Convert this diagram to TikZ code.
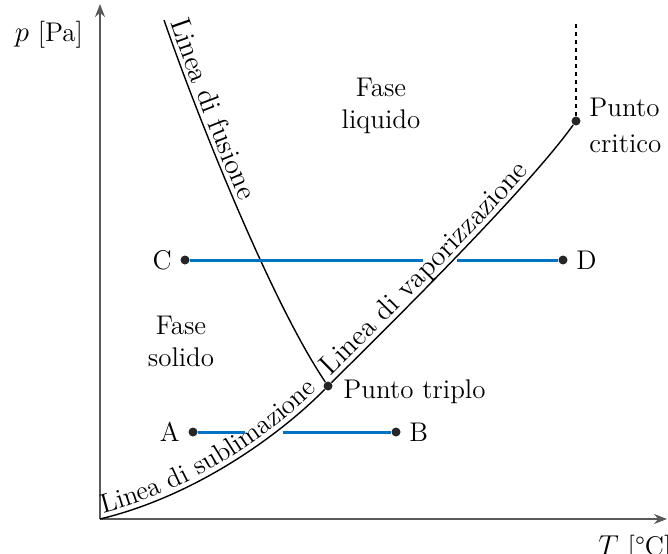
\documentclass[tikz,border=0pt]{standalone}
\usetikzlibrary{arrows.meta, positioning, decorations.text}
\definecolor{blu}{RGB}{0,114,195}
\newcommand{\testo}{\fontsize{13.5}{16}\selectfont}
\newcommand{\testocurva}{\fontsize{14.2}{16}\selectfont}

\begin{document}
\begin{tikzpicture}[
x=0.5pt, y=0.5pt,
node distance=3pt,
every node/.style={font=\testo, inner sep=1pt},
asse/.style={-{Stealth[length=6.5pt, width=5pt]}, line width=1pt, black!65},
curva/.style={line width=0.7pt},
punto/.style={circle, fill=black!85, inner sep=0pt, minimum size=4.5pt},
isoterma/.style={line width=1.5pt, blu},
scritta/.style 2 args={postaction={decorate, decoration={text along path, raise=2.5pt, text align={left indent=#1}, text={#2}}}}
]
\useasboundingbox (0,0) rectangle (668,553);

% ASSI
\coordinate (O) at (100,34);
\coordinate (yfine) at (100,549);
\coordinate (xfine) at (667,34);
\draw[asse] (O) -- (yfine);
\draw[asse] (O) -- (xfine);
\node (lp) at (49,518) {$p$ [Pa]};
\node (lT) [anchor=north west] at (596,20) {$T$ [\textdegree C]};

% PUNTI
\node (tp) [punto] at (328,167) {};
\node (cp) [punto] at (576,432) {};
\coordinate (ftop) at (164,533);
\coordinate (dtop) at (576,531);
\node (triplo) [anchor=west] at (341,161) {Punto triplo};
\node (critico) [anchor=west, align=left] at (587,428) {Punto\\[2pt]critico};

% CURVE
\draw[curva, scritta={2.5pt}{|\testo|Linea di sublimazione}]
  (O) .. controls (200,58) and (285,123) .. (tp);
\draw[curva, scritta={2pt}{|\testocurva|Linea di vaporizzazione}]
  (tp) .. controls (410,248) and (530,368) .. (cp);
\draw[curva, scritta={2pt}{|\testocurva|Linea di fusione}]
  (ftop) .. controls (195,443) and (270,253) .. (tp);
\draw[curva, dashed, dash pattern=on 2pt off 2pt] (cp) -- (dtop);

% FASI
\node (liquido) [align=center] at (381,447) {Fase\\liquido};
\node (solido) [align=center] at (181,212) {Fase\\solido};

% TRASFORMAZIONI
\node (a) [punto] at (193,121) {};
\node (b) [punto] at (396,121) {};
\node (c) [punto] at (185,293) {};
\node (d) [punto] at (563,293) {};
\node (la) [left=of a] {A};
\node (lb) [right=of b] {B};
\node (lc) [left=of c] {C};
\node (ld) [right=of d] {D};
\coordinate (ab1) at (245,121);
\coordinate (ab2) at (283,121);
\coordinate (cd1) at (423,293);
\coordinate (cd2) at (457,293);

\draw[isoterma] (a) -- (ab1);
\draw[isoterma] (ab2) -- (b);
\draw[isoterma] (c) -- (cd1);
\draw[isoterma] (cd2) -- (d);

\end{tikzpicture}
\end{document}
